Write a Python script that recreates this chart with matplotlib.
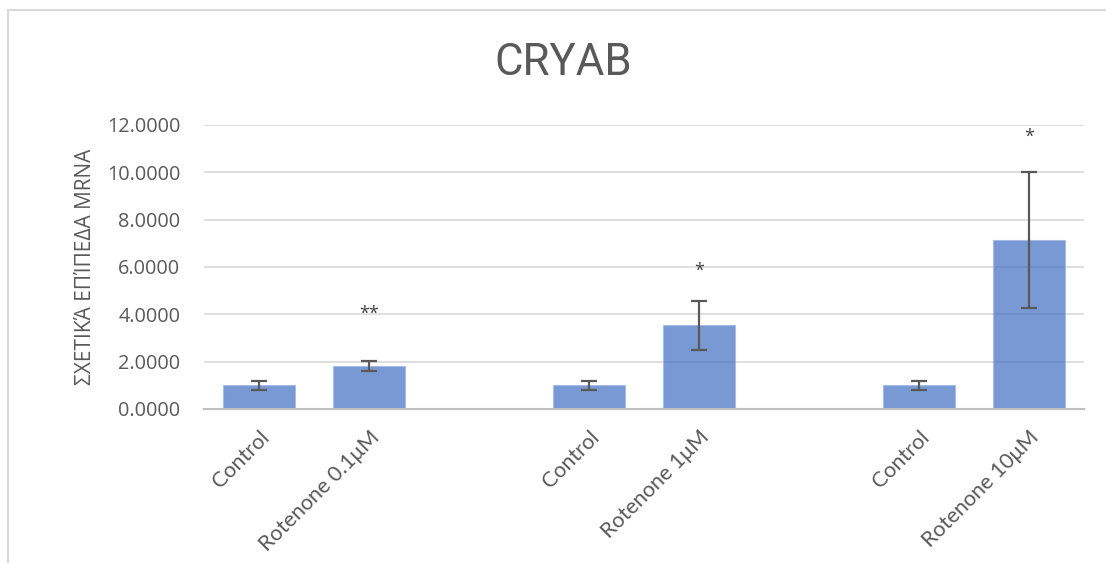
import matplotlib
matplotlib.use("Agg")
import matplotlib.pyplot as plt
from matplotlib.patches import Rectangle

# Data
categories = ["Control", "Rotenone 0.1μM", "", "Control", "Rotenone 1μM", "", "Control", "Rotenone 10μM"]
values = [1.00, 1.82, None, 1.00, 3.53, None, 1.00, 7.15]
errors = [0.20, 0.20, None, 0.20, 1.05, None, 0.20, 2.87]
sig_marks = ["", "**", "", "", "*", "", "", "*"]
sig_heights = [None, 4.0, None, None, 5.85, None, None, 11.5]
yticks = [0, 2, 4, 6, 8, 10, 12]

plt.rcParams["font.family"] = ["Open Sans", "DejaVu Sans"]
text_color = "#595959"

fig = plt.figure(figsize=(11.06, 5.63), dpi=100)
W, H = 1106, 563

# Chart area border
fig.patches.append(Rectangle((8 / W, -0.1), 1.2, 1 - 10 / H + 0.1, transform=fig.transFigure,
                             fill=False, edgecolor="#d9d9d9", linewidth=1.5))

ax = fig.add_axes([204 / W, 1 - 409 / H, 880 / W, 284 / H])

xs = [i for i, v in enumerate(values) if v is not None]
vals = [values[i] for i in xs]
errs = [errors[i] for i in xs]

ax.bar(xs, vals, width=0.66, color="#4472C4", alpha=0.72, zorder=2,
       edgecolor="#9db8e6", linewidth=0.8)
ax.errorbar(xs, vals, yerr=errs, fmt="none", ecolor="#595959", elinewidth=1.6,
            capsize=6, capthick=1.6, zorder=3)

for i, (m, h) in enumerate(zip(sig_marks, sig_heights)):
    if m:
        ax.text(i, h, m, ha="center", va="center", fontsize=13, color="#404040")

ax.set_xlim(-0.5, len(categories) - 0.5)
ax.set_ylim(0, 12)
ax.set_yticks(yticks)
ax.set_yticklabels([f"{t:.4f}" for t in yticks], fontsize=14.3, color=text_color)
ax.set_xticks(xs)
ax.set_xticklabels([categories[i] for i in xs], rotation=45, ha="right",
                   rotation_mode="anchor", fontsize=15.5, color=text_color,
                   fontfamily=["Lato", "DejaVu Sans"])
ax.tick_params(axis="y", length=0, pad=17)
ax.tick_params(axis="x", length=0, pad=13)

ax.grid(axis="y", color="#d9d9d9", linewidth=1.2, zorder=0)
ax.set_axisbelow(True)
for s in ["top", "right", "left"]:
    ax.spines[s].set_visible(False)
ax.spines["bottom"].set_color("#bfbfbf")
ax.spines["bottom"].set_linewidth(1.5)

ax.set_ylabel("ΣΧΕΤΙΚΆ ΕΠΊΠΕΔΑ MRNA", fontsize=15, color=text_color, labelpad=8)

fig.text(563 / W, 1 - 75 / H, "CRYAB", ha="center", va="baseline", fontsize=31.5,
         color=text_color, fontfamily=["Roboto", "DejaVu Sans"])

fig.savefig("out.png", dpi=100, facecolor="white")
